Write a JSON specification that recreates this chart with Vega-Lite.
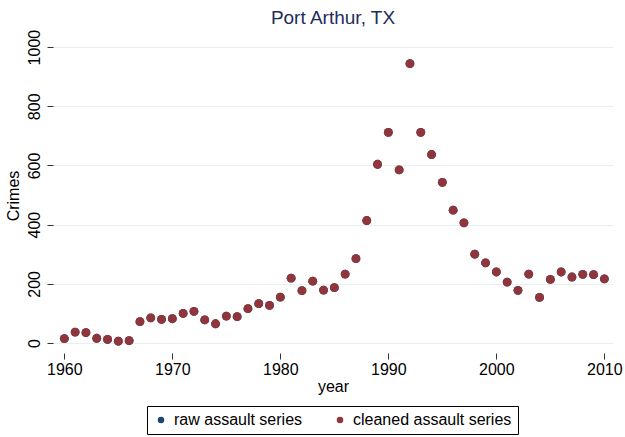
{
  "$schema": "https://vega.github.io/schema/vega-lite/v6.json",
  "width": 560,
  "height": 311,
  "autosize": {"type": "none"},
  "padding": {"left": 53, "top": 40, "right": 12, "bottom": 86},
  "background": "white",
  "title": {"text": "Port Arthur, TX", "font": "Liberation Sans", "fontSize": 19, "fontWeight": "normal", "color": "#1f2d5c", "anchor": "middle", "offset": 1},
  "config": {
    "view": {"stroke": null},
    "font": "Liberation Sans"
  },
  "data": {"values": [
    {"year": 1960, "raw assault series": 15, "cleaned assault series": 15},
    {"year": 1961, "raw assault series": 37, "cleaned assault series": 37},
    {"year": 1962, "raw assault series": 35, "cleaned assault series": 35},
    {"year": 1963, "raw assault series": 16, "cleaned assault series": 16},
    {"year": 1964, "raw assault series": 12, "cleaned assault series": 12},
    {"year": 1965, "raw assault series": 6, "cleaned assault series": 6},
    {"year": 1966, "raw assault series": 8, "cleaned assault series": 8},
    {"year": 1967, "raw assault series": 72, "cleaned assault series": 72},
    {"year": 1968, "raw assault series": 85, "cleaned assault series": 85},
    {"year": 1969, "raw assault series": 80, "cleaned assault series": 80},
    {"year": 1970, "raw assault series": 82, "cleaned assault series": 82},
    {"year": 1971, "raw assault series": 100, "cleaned assault series": 100},
    {"year": 1972, "raw assault series": 107, "cleaned assault series": 107},
    {"year": 1973, "raw assault series": 78, "cleaned assault series": 78},
    {"year": 1974, "raw assault series": 65, "cleaned assault series": 65},
    {"year": 1975, "raw assault series": 91, "cleaned assault series": 91},
    {"year": 1976, "raw assault series": 89, "cleaned assault series": 89},
    {"year": 1977, "raw assault series": 116, "cleaned assault series": 116},
    {"year": 1978, "raw assault series": 133, "cleaned assault series": 133},
    {"year": 1979, "raw assault series": 127, "cleaned assault series": 127},
    {"year": 1980, "raw assault series": 155, "cleaned assault series": 155},
    {"year": 1981, "raw assault series": 219, "cleaned assault series": 219},
    {"year": 1982, "raw assault series": 177, "cleaned assault series": 177},
    {"year": 1983, "raw assault series": 209, "cleaned assault series": 209},
    {"year": 1984, "raw assault series": 179, "cleaned assault series": 179},
    {"year": 1985, "raw assault series": 187, "cleaned assault series": 187},
    {"year": 1986, "raw assault series": 233, "cleaned assault series": 233},
    {"year": 1987, "raw assault series": 285, "cleaned assault series": 285},
    {"year": 1988, "raw assault series": 414, "cleaned assault series": 414},
    {"year": 1989, "raw assault series": 604, "cleaned assault series": 604},
    {"year": 1990, "raw assault series": 712, "cleaned assault series": 712},
    {"year": 1991, "raw assault series": 585, "cleaned assault series": 585},
    {"year": 1992, "raw assault series": 944, "cleaned assault series": 944},
    {"year": 1993, "raw assault series": 712, "cleaned assault series": 712},
    {"year": 1994, "raw assault series": 637, "cleaned assault series": 637},
    {"year": 1995, "raw assault series": 543, "cleaned assault series": 543},
    {"year": 1996, "raw assault series": 449, "cleaned assault series": 449},
    {"year": 1997, "raw assault series": 406, "cleaned assault series": 406},
    {"year": 1998, "raw assault series": 300, "cleaned assault series": 300},
    {"year": 1999, "raw assault series": 271, "cleaned assault series": 271},
    {"year": 2000, "raw assault series": 240, "cleaned assault series": 240},
    {"year": 2001, "raw assault series": 206, "cleaned assault series": 206},
    {"year": 2002, "raw assault series": 178, "cleaned assault series": 178},
    {"year": 2003, "raw assault series": 233, "cleaned assault series": 233},
    {"year": 2004, "raw assault series": 154, "cleaned assault series": 154},
    {"year": 2005, "raw assault series": 215, "cleaned assault series": 215},
    {"year": 2006, "raw assault series": 240, "cleaned assault series": 240},
    {"year": 2007, "raw assault series": 223, "cleaned assault series": 223},
    {"year": 2008, "raw assault series": 232, "cleaned assault series": 232},
    {"year": 2009, "raw assault series": 231, "cleaned assault series": 231},
    {"year": 2010, "raw assault series": 217, "cleaned assault series": 217}
  ]},
  "transform": [
    {"fold": ["raw assault series", "cleaned assault series"], "as": ["series", "crimes"]}
  ],
  "mark": {"type": "point", "filled": true, "opacity": 1, "shape": "circle", "size": 78},
  "encoding": {
    "x": {
      "field": "year", "type": "quantitative",
      "scale": {"domain": [1958.95, 2010.8], "nice": false, "zero": false},
      "axis": {
        "values": [1960, 1970, 1980, 1990, 2000, 2010],
        "format": "d",
        "grid": false, "domain": false,
        "offset": 2, "tickSize": 6, "tickColor": "#333333",
        "labelFontSize": 16, "labelColor": "#000000", "labelPadding": 2,
        "title": "year", "titleFontSize": 16, "titleFontWeight": "normal", "titleColor": "#000000", "titlePadding": 1
      }
    },
    "y": {
      "field": "crimes", "type": "quantitative",
      "scale": {"domain": [-27, 1024], "nice": false, "zero": false},
      "axis": {
        "values": [0, 200, 400, 600, 800, 1000],
        "format": "d",
        "grid": true, "gridColor": "#e8eff1", "gridWidth": 1.2,
        "domain": false, "tickSize": 6, "tickColor": "#333333",
        "labelAngle": -90, "labelAlign": "center", "labelBaseline": "bottom",
        "labelFontSize": 16, "labelColor": "#000000", "labelPadding": 5,
        "title": "Crimes", "titleFontSize": 16, "titleFontWeight": "normal", "titleColor": "#000000", "titlePadding": 5
      }
    },
    "color": {
      "field": "series", "type": "nominal",
      "scale": {"domain": ["raw assault series", "cleaned assault series"], "range": ["#1a476f", "#90353b"]},
      "legend": {
        "orient": "none", "legendX": 94, "legendY": 366, "direction": "horizontal", "title": null,
        "strokeColor": "#000000", "padding": 6, "columns": 2,
        "labelFontSize": 16, "labelColor": "#000000", "symbolSize": 42, "symbolType": "circle",
        "columnPadding": 29, "labelOffset": 5
      }
    }
  }
}
